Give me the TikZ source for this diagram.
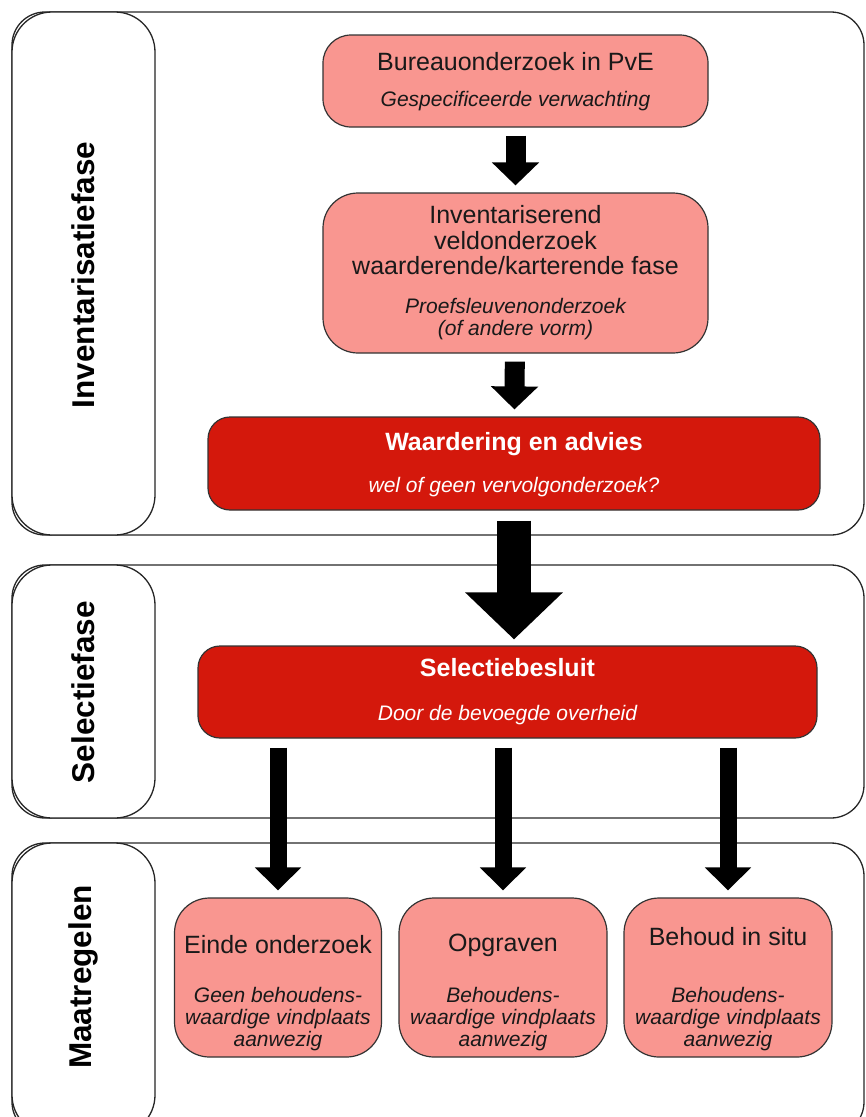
\documentclass[tikz,border=0pt]{standalone}
\usepackage{fontspec}
\setmainfont{Liberation Sans}
\usetikzlibrary{arrows.meta}
\definecolor{zalm}{RGB}{249,150,144}
\definecolor{rood}{RGB}{212,24,12}

\begin{document}
\begin{tikzpicture}[x=1pt, y=-1pt,
  fase/.style={draw=black!85, line width=1.3pt, rounded corners=33pt},
  faselabel/.style={draw=black!85, fill=white, line width=1.3pt, rounded corners=40pt},
  fasetekst/.style={font=\fontsize{31.5}{32}\selectfont\bfseries, rotate=90},
  licht/.style={draw=black!80, fill=zalm, line width=1.2pt, rounded corners=28pt, inner sep=0pt},
  donker/.style={draw=black!80, fill=rood, line width=1.2pt, rounded corners=22pt, inner sep=0pt},
  titel/.style={font=\fontsize{25}{25.5}\selectfont, align=center, text=black!90},
  sub/.style={font=\fontsize{21}{22}\selectfont\itshape, align=center, text=black!90},
  pijl/.style={line width=20pt, -{Triangle[width=46pt,length=23pt]}, shorten <=8pt, shorten >=7pt},
  dikkepijl/.style={line width=34pt, -{Triangle[width=95pt,length=47pt]}, shorten <=10pt, shorten >=6pt},
  smallepijl/.style={line width=17pt, -{Triangle[width=45pt,length=23pt]}, shorten <=9pt, shorten >=7pt}
]
\clip (0,0) rectangle (866,1117);

% Fases
\draw[fase] (12,12) rectangle (864,535);
\draw[faselabel] (12,12) rectangle (155,535);
\node[fasetekst] (inventarisatie) at (83,275) {Inventarisatiefase};

\draw[fase] (12,565) rectangle (864,818);
\draw[faselabel] (12,565) rectangle (155,818);
\node[fasetekst] (selectie) at (83,692) {Selectiefase};

\draw[fase] (12,843) rectangle (864,1135);
\draw[faselabel] (12,843) rectangle (155,1135);
\node[fasetekst] (maatregelen) at (83,977) {Maatregelen};

% Inventarisatie
\node[licht, minimum width=385pt, minimum height=92pt] (bureau) at (515.5,81) {};
\node[titel] (bureau-t) at (515.5,62) {Bureauonderzoek in PvE};
\node[sub] (bureau-s) at (515.5,101) {Gespecificeerde verwachting};

\node[licht, minimum width=385pt, minimum height=160pt, rounded corners=35pt] (veld) at (515.5,273) {};
\node[titel] (veld-t) at (515.5,240.5) {Inventariserend\\veldonderzoek\\waarderende/karterende fase};
\node[sub] (veld-s) at (515.5,319) {Proefsleuvenonderzoek\\(of andere vorm)};

\node[donker, minimum width=612pt, minimum height=93pt] (waardering) at (514,463.5) {};
\node[titel, text=white, font=\fontsize{25}{25.5}\selectfont\bfseries] (waardering-t) at (514,444) {Waardering en advies};
\node[sub, text=white] (waardering-s) at (514,487) {wel of geen vervolgonderzoek?};

% Selectie
\node[donker, minimum width=619pt, minimum height=92pt] (besluit) at (507.5,692) {};
\node[titel, text=white, font=\fontsize{25}{25.5}\selectfont\bfseries] (besluit-t) at (507.5,668) {Selectiebesluit};
\node[sub, text=white] (besluit-s) at (507.5,715) {Door de bevoegde overheid};

% Maatregelen
\node[licht, minimum width=207pt, minimum height=159pt, rounded corners=35pt] (einde) at (278,977.5) {};
\node[titel] (einde-t) at (278,945) {Einde onderzoek};
\node[sub] (einde-s) at (278,1019) {Geen behoudens-\\waardige vindplaats\\aanwezig};

\node[licht, minimum width=208pt, minimum height=159pt, rounded corners=35pt] (opgraven) at (503,977.5) {};
\node[titel] (opgraven-t) at (503,945) {Opgraven};
\node[sub] (opgraven-s) at (503,1019) {Behoudens-\\waardige vindplaats\\aanwezig};

\node[licht, minimum width=208pt, minimum height=159pt, rounded corners=35pt] (behoud) at (728,977.5) {};
\node[titel] (behoud-t) at (728,937) {Behoud in situ};
\node[sub] (behoud-s) at (728,1019) {Behoudens-\\waardige vindplaats\\aanwezig};

% Pijlen
\draw[pijl] (bureau) -- (veld);
\draw[pijl] (veld) -- (waardering);
\draw[dikkepijl] (waardering.south) -- (waardering.south |- besluit.north);
\draw[smallepijl] (einde.north |- besluit.south) -- (einde.north);
\draw[smallepijl] (opgraven.north |- besluit.south) -- (opgraven.north);
\draw[smallepijl] (behoud.north |- besluit.south) -- (behoud.north);

\end{tikzpicture}
\end{document}
